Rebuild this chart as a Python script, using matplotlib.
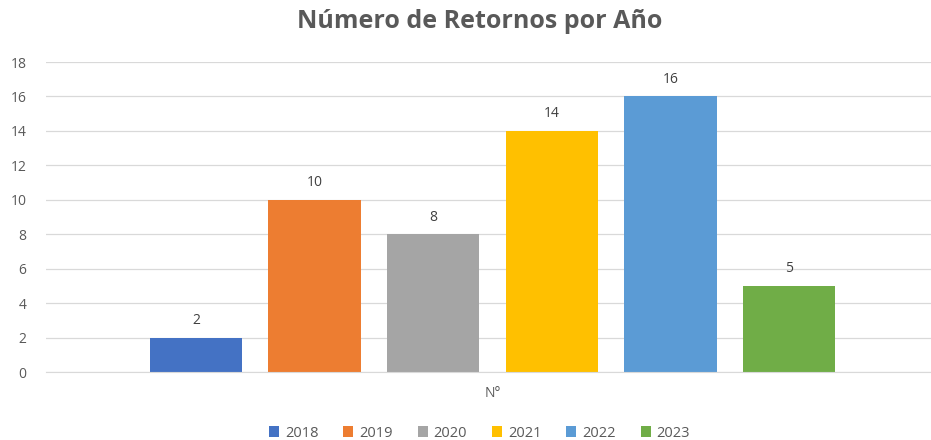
import numpy as np
import matplotlib.pyplot as plt

years = ["2018", "2019", "2020", "2021", "2022", "2023"]
counts = [2, 10, 8, 14, 16, 5]
colors = ["#4472C4", "#ED7D31", "#A5A5A5", "#FFC000", "#5B9BD5", "#70AD47"]
category = "N°"

plt.rcParams['font.family'] = ['Open Sans', 'DejaVu Sans']

fig = plt.figure(figsize=(9.31, 4.4), dpi=100)
ax = fig.add_axes([46 / 931, 1 - 372 / 440, 1 - 46 / 931, (372 - 62) / 440])

x = np.arange(len(years))
for i in range(len(years)):
    ax.bar(x[i], counts[i], width=0.78, color=colors[i], label=years[i], zorder=3)
    ax.text(x[i], counts[i] + 0.55, str(counts[i]), ha="center", va="bottom",
            fontsize=10, color="#404040")

ax.set_xlim(-1.265, 6.197)
ax.set_ylim(0, 18)
ax.set_yticks(range(0, 19, 2))
ax.set_xticks([(x[0] + x[-1]) / 2])
ax.set_xticklabels([category])
ax.tick_params(axis="both", length=0, colors="#595959", labelsize=10)
ax.tick_params(axis="y", pad=14)
ax.tick_params(axis="x", pad=10)
ax.grid(axis="y", color="#D9D9D9", linewidth=0.9, zorder=0)
for s in ["top", "right", "left"]:
    ax.spines[s].set_visible(False)
ax.spines["bottom"].set_color("#D9D9D9")
ax.spines["bottom"].set_zorder(4)

fig.text(0.515, 1 - 22 / 440, "Número de Retornos por Año", ha="center", va="center",
         fontsize=18, fontweight="bold", color="#595959")

leg = fig.legend(loc="center", bbox_to_anchor=(0.515, 1 - 433 / 440), ncol=6, frameon=False,
                 fontsize=10.5, handlelength=0.7, handleheight=0.7, handletextpad=0.4,
                 columnspacing=1.7)
for t in leg.get_texts():
    t.set_color("#595959")

fig.savefig("out.png", dpi=100)
